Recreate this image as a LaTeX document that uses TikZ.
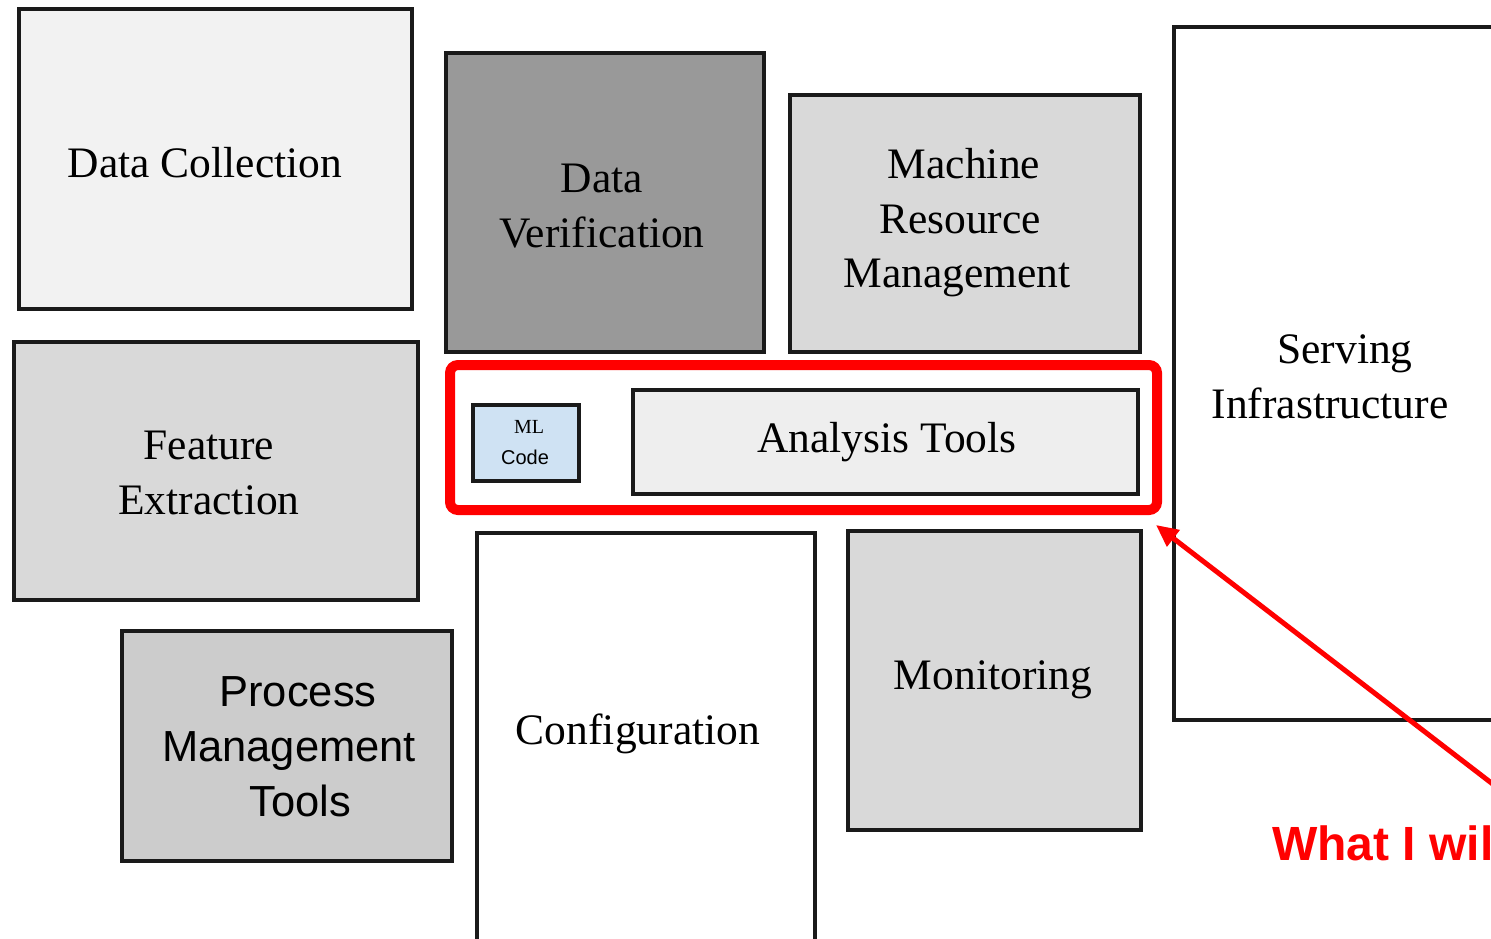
\documentclass[tikz,border=0pt]{standalone}
\usepackage{fontspec}
\setmainfont{Liberation Serif}
\setsansfont{Liberation Sans}
\usetikzlibrary{arrows.meta}
\definecolor{gA}{HTML}{F2F2F2}
\definecolor{gB}{HTML}{999999}
\definecolor{gC}{HTML}{D9D9D9}
\definecolor{gD}{HTML}{CCCCCC}
\definecolor{gE}{HTML}{EEEEEE}
\definecolor{mlblue}{HTML}{CFE2F3}
\definecolor{edge}{HTML}{1A1A1A}
\definecolor{hired}{HTML}{FF0000}
\begin{document}
\begin{tikzpicture}[x=1pt,y=-1pt,
  blk/.style={draw=edge,line width=4pt,inner sep=0pt,outer sep=0pt,rectangle},
  lbl/.style={align=center,inner sep=0pt,font=\fontsize{43.5}{54.5}\selectfont},
  slbl/.style={align=center,inner sep=0pt,font=\sffamily\fontsize{43.5}{55}\selectfont}]
\useasboundingbox (0,0) rectangle (1491,938);
\clip (0,0) rectangle (1491,938);
\fill[white] (0,0) rectangle (1491,938);
% boxes
\node[blk,fill=gA,minimum width=393pt,minimum height=300pt] (dc) at (215.5,159) {};
\node[blk,fill=gB,minimum width=318pt,minimum height=299pt] (dv) at (605,202.5) {};
\node[blk,fill=gC,minimum width=350pt,minimum height=257pt] (mrm) at (965,223.5) {};
\node[blk,fill=white,minimum width=346pt,minimum height=693pt] (si) at (1347,373.5) {};
\node[blk,fill=gC,minimum width=404pt,minimum height=258pt] (fe) at (216,471) {};
\node[blk,fill=mlblue,minimum width=106pt,minimum height=76pt] (ml) at (526,443) {};
\node[blk,fill=gE,minimum width=505pt,minimum height=104pt] (at) at (885.5,442) {};
\node[blk,fill=gD,minimum width=330pt,minimum height=230pt] (pmt) at (287,746) {};
\node[blk,fill=white,minimum width=338pt,minimum height=427pt] (cfg) at (646,746.5) {};
\node[blk,fill=gC,minimum width=293pt,minimum height=299pt] (mon) at (994.5,680.5) {};
% highlight
\node[draw=hired,line width=10pt,rounded corners=8pt,inner sep=0pt,minimum width=707pt,minimum height=145pt] (focus) at (803.5,437.5) {};
% labels
\node[lbl] (tdc) at (205,163) {Data Collection};
\node[lbl] (tdv) at (602,206) {Data\\Verification};
\node[lbl] (tmrm) at (957,223) {\hspace*{14pt}Machine\\\hspace*{6pt}Resource\\Management};
\node[lbl] (tsi) at (1330,377) {\hspace*{30pt}Serving\\Infrastructure};
\node[lbl] (tfe) at (209,473) {Feature\\Extraction};
\node[align=center,inner sep=0pt,font=\fontsize{20}{31}\selectfont] (tml) at (525,443) {\hspace*{8pt}ML\\\sffamily Code};
\node[lbl] (tat) at (887,442) {Analysis Tools};
\node[slbl] (tpmt) at (289,747) {\hspace*{18pt}Process\\Management\\\hspace*{22pt}Tools};
\node[lbl] (tcfg) at (638,734) {Configuration};
\node[lbl] (tmon) at (993,680) {Monitoring};
\node[anchor=base west,inner sep=0pt,text=hired,font=\sffamily\bfseries\fontsize{48}{58}\selectfont] (note) at (1272,860) {What I wil};
% arrow
\coordinate (astart) at (1520,805);
\coordinate (atip) at (1156,525);
\draw[hired,line width=5pt,-{Triangle[length=22pt,width=20pt]}] (astart) -- (atip);
\end{tikzpicture}
\end{document}
